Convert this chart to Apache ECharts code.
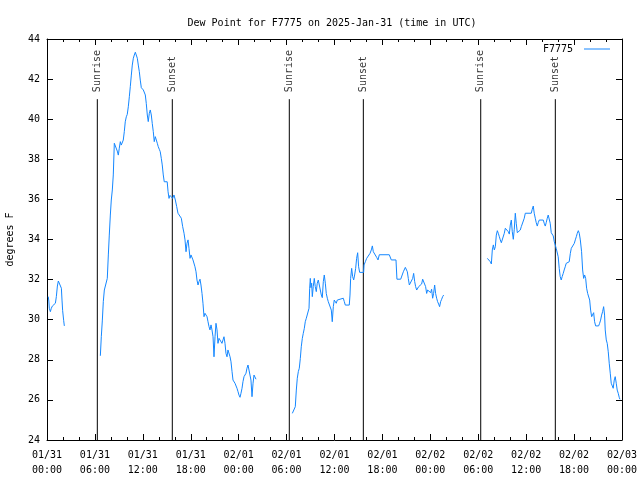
<!DOCTYPE html>
<html>
<head>
<meta charset="utf-8">
<script src="https://cdn.jsdelivr.net/npm/echarts@6/dist/echarts.min.js"></script>
<style>html,body{margin:0;padding:0;background:#fff}#c{width:640px;height:480px}</style>
</head>
<body>
<div id="c"></div>
<script>
var titleText = 'Dew Point for F7775 on 2025-Jan-31 (time in UTC)';
var seriesName = 'F7775';
var yName = 'degrees F';
var xTickLabels = ['01/31\n00:00','01/31\n06:00','01/31\n12:00','01/31\n18:00','02/01\n00:00','02/01\n06:00','02/01\n12:00','02/01\n18:00','02/02\n00:00','02/02\n06:00','02/02\n12:00','02/02\n18:00','02/03\n00:00'];
var eventHours = [6.30, 15.69, 30.34, 39.61, 54.31, 63.65];
var eventLabels = ['Sunrise','Sunset','Sunrise','Sunset','Sunrise','Sunset'];
var eventTop = 41.0;
var eventLabelBase = 41.35;

// [hours since 01/31 00:00 UTC, dew point F]
var seg1 = [[0.16,31.15],[0.23,30.93],[0.29,30.57],[0.42,30.40],[0.54,30.57],[0.67,30.68],[0.92,30.68],[1.05,30.82],[1.17,31.15],[1.30,31.68],[1.42,31.93],[1.67,31.93],[1.80,31.57],[1.88,30.98],[1.96,30.45],[2.09,29.95],[2.17,29.69]];
var seg2 = [[6.68,28.20],[6.80,29.15],[6.93,29.98],[7.05,30.90],[7.18,31.48],[7.43,31.48],[7.55,32.06],[7.68,33.23],[7.80,34.22],[7.93,35.22],[8.05,35.97],[8.18,36.47],[8.30,37.22],[8.43,38.80],[8.55,38.85],[8.68,38.71],[8.80,38.41],[8.93,38.21],[9.05,38.55],[9.18,38.88],[9.30,38.71],[9.43,38.63],[9.55,38.96],[9.68,39.38],[9.80,39.87],[9.93,40.12],[10.05,40.24],[10.18,40.62],[10.31,41.12],[10.43,41.62],[10.56,42.20],[10.68,42.70],[10.81,43.04],[10.93,43.20],[11.06,43.34],[11.18,43.27],[11.31,43.04],[11.43,42.70],[11.56,42.37],[11.68,41.95],[11.81,41.57],[12.06,41.46],[12.31,41.21],[12.43,40.79],[12.56,40.21],[12.68,39.88],[12.81,40.29],[12.93,40.46],[13.06,40.21],[13.18,39.79],[13.31,39.38],[13.43,38.88],[13.56,39.13],[13.68,39.21],[13.81,38.80],[13.93,38.63],[14.06,38.50],[14.18,38.38],[14.31,38.05],[14.43,37.72],[14.56,37.22],[14.68,36.88],[15.05,36.88],[15.16,36.38],[15.28,36.05],[15.40,36.20],[15.73,36.05],[15.90,36.22],[16.07,35.97],[16.24,35.64],[16.40,35.31],[16.65,35.31],[16.82,35.06],[16.99,34.64],[17.16,34.31],[17.28,33.98],[17.41,33.39],[17.53,33.81],[17.66,33.98],[17.78,33.56],[17.91,33.06],[18.03,33.23],[18.16,33.31],[18.28,32.98],[18.53,32.64],[18.66,32.39],[18.78,31.98],[18.91,31.73],[19.03,31.90],[19.16,32.02],[19.28,31.73],[19.41,31.31],[19.53,30.82],[19.66,30.15],[19.78,30.32],[19.91,30.40],[20.04,30.15],[20.16,29.90],[20.29,29.65],[20.41,29.49],[20.54,29.74],[20.66,29.49],[20.79,29.15],[20.91,28.15],[21.04,29.15],[21.16,29.82],[21.29,29.49],[21.41,28.82],[21.54,29.07],[21.79,29.15],[21.91,28.82],[22.04,28.99],[22.16,29.15],[22.29,28.82],[22.41,28.32],[22.54,28.15],[22.66,28.49],[22.79,28.40],[22.92,28.15],[23.04,27.90],[23.17,27.41],[23.29,26.99],[23.42,26.91],[23.54,26.83],[23.79,26.58],[23.92,26.41],[24.04,26.24],[24.17,26.13],[24.29,26.33],[24.42,26.58],[24.54,26.91],[24.67,27.16],[24.92,27.33],[25.04,27.58],[25.17,27.74],[25.30,27.83],[25.42,27.83],[25.54,26.99],[25.67,26.16],[25.80,26.83],[25.92,27.24],[26.05,27.16],[26.17,27.03]];
var seg3 = [[30.72,25.33],[30.97,25.33],[31.09,25.66],[31.22,26.49],[31.34,27.08],[31.47,27.41],[31.59,27.58],[31.72,28.07],[31.84,28.65],[31.97,29.07],[32.09,29.32],[32.22,29.57],[32.34,29.90],[32.47,30.07],[32.68,30.12],[32.81,30.57],[32.89,31.57],[32.97,32.06],[33.05,31.60],[33.14,31.82],[33.22,31.15],[33.34,31.65],[33.47,32.06],[33.59,31.65],[33.72,31.40],[33.84,31.82],[33.97,31.98],[34.22,31.98],[34.35,31.23],[34.47,31.10],[34.60,31.90],[34.72,32.23],[34.85,31.82],[34.97,31.31],[35.10,31.07],[35.22,30.90],[35.47,30.90],[35.60,30.48],[35.72,29.90],[35.85,30.65],[35.97,30.98],[36.10,31.07],[36.22,30.82],[36.35,30.98],[36.60,31.07],[37.10,31.07],[37.23,30.90],[37.35,30.73],[37.85,30.73],[37.94,31.23],[38.02,32.06],[38.15,32.56],[38.27,32.15],[38.40,31.98],[38.52,32.23],[38.65,32.56],[38.77,33.06],[38.90,33.34],[39.02,32.64],[39.15,32.36],[39.65,32.36],[39.70,32.73],[39.86,32.89],[40.03,33.06],[40.28,33.06],[40.45,33.31],[40.61,33.48],[40.74,33.68],[40.86,33.39],[41.11,33.34],[41.28,33.11],[41.45,32.98],[41.61,33.24],[42.86,33.24],[43.11,32.98],[43.70,32.98],[43.82,32.02],[44.29,32.02],[44.62,32.39],[44.87,32.61],[45.12,32.39],[45.24,32.06],[45.37,31.73],[45.62,31.73],[45.79,32.06],[45.91,32.31],[46.04,31.90],[46.16,31.65],[46.29,31.48],[46.41,31.40],[46.54,31.65],[46.66,31.73],[46.91,31.78],[47.04,32.02],[47.29,32.02],[47.41,31.65],[47.54,31.31],[47.66,31.48],[47.79,31.40],[47.91,31.57],[48.04,31.35],[48.16,31.52],[48.29,31.07],[48.41,31.31],[48.54,31.73],[48.66,31.31],[48.79,31.07],[48.91,30.90],[49.04,30.78],[49.16,30.65],[49.29,30.90],[49.42,31.02],[49.54,31.15],[49.67,31.23]];
var seg4 = [[55.14,33.06],[55.39,33.06],[55.51,32.89],[55.64,32.78],[55.76,33.48],[55.89,33.73],[56.01,33.48],[56.14,33.64],[56.26,34.22],[56.39,34.44],[56.51,34.31],[56.64,34.14],[56.76,33.98],[56.89,33.84],[57.14,33.84],[57.26,34.31],[57.39,34.56],[57.64,34.56],[57.76,34.39],[57.89,34.27],[58.01,34.72],[58.14,34.97],[58.26,34.39],[58.39,34.01],[58.51,34.51],[58.64,35.31],[58.76,34.81],[58.89,34.34],[59.14,34.34],[59.26,34.47],[59.39,34.64],[59.64,34.64],[59.76,35.06],[59.89,35.31],[60.64,35.31],[60.76,35.51],[60.89,35.67],[61.01,35.31],[61.14,35.06],[61.26,34.84],[61.39,34.67],[61.51,34.84],[61.64,34.97],[62.14,34.97],[62.26,34.81],[62.39,34.67],[62.51,34.84],[62.64,35.06],[62.76,35.22],[62.89,35.31],[63.01,34.81],[63.14,34.34],[63.26,34.34],[63.39,34.18],[63.52,33.89],[63.64,33.80],[63.76,33.56],[63.89,33.48],[64.01,33.14],[64.14,32.56],[64.26,32.15],[64.39,31.98],[64.51,32.15],[64.64,32.31],[64.76,32.48],[64.89,32.64],[65.01,32.81],[65.14,32.89],[65.39,32.89],[65.53,33.31],[65.65,33.56],[65.90,33.61],[66.03,33.81],[66.15,33.98],[66.28,34.14],[66.40,34.31],[66.53,34.44],[66.65,34.31],[66.78,33.98],[66.94,33.39],[67.07,32.48],[67.20,32.06],[67.32,32.23],[67.45,32.06],[67.57,31.57],[67.70,31.31],[67.82,31.31],[67.95,30.98],[68.07,30.48],[68.20,30.15],[68.32,30.23],[68.45,30.35],[68.57,29.90],[68.70,29.69],[69.07,29.69],[69.20,29.82],[69.32,29.98],[69.45,30.23],[69.57,30.40],[69.70,30.65],[69.82,30.23],[69.90,29.49],[70.03,28.99],[70.15,28.82],[70.28,28.40],[70.40,27.83],[70.53,27.33],[70.65,26.83],[70.78,26.74],[70.90,26.58],[71.03,26.99],[71.15,27.16],[71.28,26.83],[71.40,26.49],[71.53,26.33],[71.65,26.13],[71.74,26.03]];

var FONT = 'DejaVu Sans Mono';
var BLUE = '#1487ff';
var chart = echarts.init(document.getElementById('c'), null, {renderer:'canvas'});

function dewSeries(d){
  return {name: seriesName, type:'line', data:d, xAxisIndex:0, yAxisIndex:0, showSymbol:false, symbol:'none',
    lineStyle:{color:BLUE, width:1}, itemStyle:{color:BLUE}, animation:false, silent:true, z:3};
}
var series = [dewSeries(seg1), dewSeries(seg2), dewSeries(seg3), dewSeries(seg4)];
eventHours.forEach(function(h, i){
  series.push({name:'ev'+i, type:'line', data:[[h,24],[h,eventTop]], showSymbol:false, symbol:'none',
    lineStyle:{color:'#000', width:1}, animation:false, silent:true, z:2});
});
series.push({name:'evlabels', type:'scatter', symbolSize:1, itemStyle:{color:'rgba(0,0,0,0)'}, animation:false, silent:true,
  data: eventHours.map(function(h,i){ return [h, eventLabelBase, eventLabels[i]]; }),
  label:{show:true, position:'inside', rotate:90, align:'left', verticalAlign:'middle',
    formatter:function(p){return p.data[2];}, color:'#000', fontFamily:FONT, fontSize:10}});

var tickCommon = {inside:true, length:6, lineStyle:{color:'#000', width:1}};
var minorCommon = {show:true, splitNumber:3, length:3, lineStyle:{color:'#000', width:1}};
chart.setOption({
  animation:false,
  backgroundColor:'#fff',
  title:{text:titleText, left:327, textAlign:'center', top:13,
    textStyle:{fontFamily:FONT, fontSize:10, fontWeight:'normal', color:'#000'}},
  legend:{data:[{name:seriesName, icon:'rect', itemStyle:{color:BLUE}}], right:25, top:39, align:'right',
    itemWidth:26, itemHeight:1, itemGap:4,
    textStyle:{fontFamily:FONT, fontSize:10, color:'#000', padding:[0,6,0,0]}, selectedMode:false},
  grid:{left:47, right:18, top:39, bottom:40, show:false, containLabel:false, outerBoundsMode:'none'},
  xAxis:[
    {type:'value', min:0, max:72, interval:6, position:'bottom',
      axisLine:{show:true, onZero:false, lineStyle:{color:'#000', width:1}},
      axisTick:tickCommon, minorTick:minorCommon, splitLine:{show:false},
      axisLabel:{margin:8, fontFamily:FONT, fontSize:10, color:'#000', lineHeight:15,
        formatter:function(v){ return xTickLabels[Math.round(v/6)]; }}},
    {type:'value', min:0, max:72, interval:6, position:'top',
      axisLine:{show:true, onZero:false, lineStyle:{color:'#000', width:1}},
      axisTick:tickCommon, minorTick:minorCommon, splitLine:{show:false}, axisLabel:{show:false}}
  ],
  yAxis:[
    {type:'value', min:24, max:44, interval:2, position:'left', name:yName, nameLocation:'middle', nameRotate:90, nameGap:32,
      nameTextStyle:{fontFamily:FONT, fontSize:10, color:'#000'},
      axisLine:{show:true, onZero:false, lineStyle:{color:'#000', width:1}},
      axisTick:tickCommon, splitLine:{show:false},
      axisLabel:{margin:7, fontFamily:FONT, fontSize:10, color:'#000'}},
    {type:'value', min:24, max:44, interval:2, position:'right',
      axisLine:{show:true, onZero:false, lineStyle:{color:'#000', width:1}},
      axisTick:tickCommon, splitLine:{show:false}, axisLabel:{show:false}}
  ],
  series:series
});
</script>
</body>
</html>
